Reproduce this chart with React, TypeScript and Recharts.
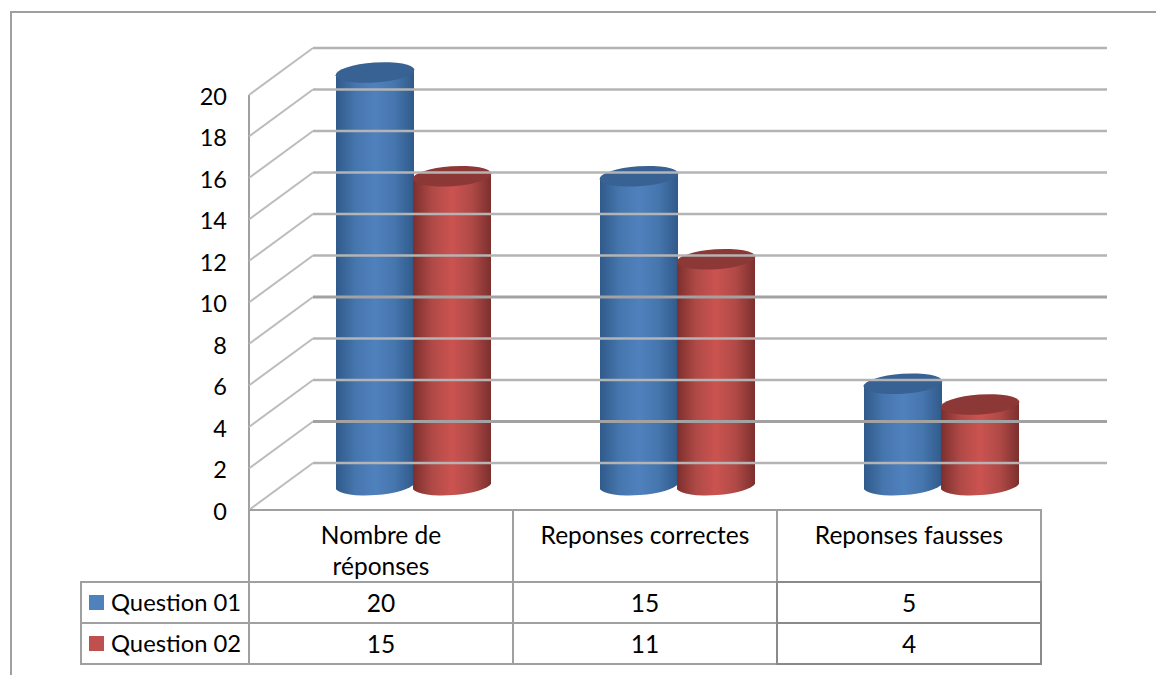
import React from 'react'
import { Bar, BarChart, XAxis, YAxis } from 'recharts'

const categories = ['Nombre de réponses', 'Reponses correctes', 'Reponses fausses']
const categoryLines = [['Nombre de', 'réponses'], ['Reponses correctes'], ['Reponses fausses']]
const question01 = [20, 15, 5]
const question02 = [15, 11, 4]
const yTicks = [0, 2, 4, 6, 8, 10, 12, 14, 16, 18, 20]
const darkerTicks = [2, 8]

const rows = categories.map((name, i) => ({ name, q1: question01[i], q2: question02[i] }))

const WIDTH = 1156
const HEIGHT = 675
const MARGIN = { top: 95, right: 115, bottom: 0, left: 0 }
const AXIS_X = 249
const AXIS_BOTTOM = 165
const BACK_RIGHT = 1107
const DEPTH_X = 64
const DEPTH_Y = 47
const FONT = 'Lato, Carlito, sans-serif'
const TEXT_SIZE = 24.5
const GRID = '#b4b4b4'
const BORDER = '#a0a0a0'
const COL_W = (WIDTH - MARGIN.right - AXIS_X) / categories.length

function YTick(props: any) {
  const { y, payload } = props
  const dark = darkerTicks.includes(payload.value)
  return (
    <g>
      <line x1={AXIS_X} y1={y} x2={AXIS_X + DEPTH_X} y2={y - DEPTH_Y} stroke="#bcbcbc" strokeWidth={2} />
      <line
        x1={AXIS_X + DEPTH_X}
        y1={y - DEPTH_Y}
        x2={BACK_RIGHT}
        y2={y - DEPTH_Y}
        stroke={dark ? '#a2a2a2' : GRID}
        strokeWidth={dark ? 3 : 2.5}
      />
      <text x={227} y={y + 9.5} textAnchor="end" fontFamily={FONT} fontSize={23.5} fill="#000">
        {payload.value}
      </text>
    </g>
  )
}

function LegendCell(props: { top: number; label: string; color: string }) {
  return (
    <g>
      <rect x={81} y={props.top} width={AXIS_X - 81} height={41} fill="#fff" stroke={BORDER} strokeWidth={2} />
      <rect x={89} y={props.top + 13} width={15} height={15} fill={props.color} />
      <text x={111} y={props.top + 29} fontFamily={FONT} fontSize={23.8} fill="#000">
        {props.label}
      </text>
    </g>
  )
}

// table under the plot, one column per category, hung off the x axis ticks
function TableTick(props: any) {
  const { x, index } = props
  const bottom = HEIGHT - AXIS_BOTTOM
  const left = x - COL_W / 2
  const right = x + COL_W / 2
  const lines = categoryLines[index]
  const rowStroke = index === 2 ? '#8a8a8a' : BORDER
  return (
    <g>
      {index === 0 && (
        <g>
          <LegendCell top={582} label="Question 01" color="#4f81bd" />
          <LegendCell top={623} label="Question 02" color="#c0504d" />
        </g>
      )}
      <rect x={left} y={bottom} width={right - left} height={72} fill="none" stroke={BORDER} strokeWidth={2} />
      <rect x={left} y={582} width={right - left} height={41} fill="none" stroke={rowStroke} strokeWidth={2} />
      <rect x={left} y={623} width={right - left} height={41} fill="none" stroke={rowStroke} strokeWidth={2} />
      {lines.map((line: string, i: number) => (
        <text key={line} x={x} y={bottom + 34 + i * 31} textAnchor="middle" fontFamily={FONT} fontSize={TEXT_SIZE} fill="#000">
          {line}
        </text>
      ))}
      <text x={x} y={612} textAnchor="middle" fontFamily={FONT} fontSize={TEXT_SIZE} fill="#000">
        {question01[index]}
      </text>
      <text x={x} y={653} textAnchor="middle" fontFamily={FONT} fontSize={TEXT_SIZE} fill="#000">
        {question02[index]}
      </text>
    </g>
  )
}

function Cylinder(props: any) {
  const { x, y, width, height, gradient, cap } = props
  const left = x + DEPTH_X / 2
  const top = y - DEPTH_Y / 2 + 1
  const rx = width / 2 + 0.5
  const ry = 10
  const tilt = 2.8
  const path = [
    `M${left},${top + tilt}`,
    `L${left},${top + height + tilt - 1}`,
    `A${rx},${ry} -4 0 0 ${left + width},${top + height - tilt - 1}`,
    `L${left + width},${top - tilt}`,
    'Z',
  ].join(' ')
  return (
    <g>
      <path d={path} fill={`url(#${gradient})`} />
      <ellipse cx={left + width / 2} cy={top} rx={rx} ry={ry} fill={cap} transform={`rotate(-4 ${left + width / 2} ${top})`} />
    </g>
  )
}

function BarGradient(props: { id: string; edge: string; mid: string; center: string }) {
  return (
    <linearGradient id={props.id} x1="0" y1="0" x2="1" y2="0">
      <stop offset="0%" stopColor={props.edge} />
      <stop offset="25%" stopColor={props.mid} />
      <stop offset="50%" stopColor={props.center} />
      <stop offset="75%" stopColor={props.mid} />
      <stop offset="100%" stopColor={props.edge} />
    </linearGradient>
  )
}

export default function App() {
  return (
    <div
      style={{
        position: 'absolute',
        left: 0,
        top: 0,
        width: WIDTH,
        height: HEIGHT,
        background: '#fff',
        overflow: 'hidden',
      }}
    >
      <div
        style={{
          position: 'absolute',
          left: 10,
          top: 11,
          width: WIDTH,
          height: HEIGHT,
          borderLeft: `2px solid ${BORDER}`,
          borderTop: `2px solid ${BORDER}`,
        }}
      />
      <div style={{ position: 'absolute', left: 0, top: 0 }}>
        <BarChart width={WIDTH} height={HEIGHT} data={rows} margin={MARGIN} barSize={78} barGap={-1}>
          <defs>
            <BarGradient id="blueBody" edge="#305a8a" mid="#4676ae" center="#4f81bd" />
            <BarGradient id="redBody" edge="#7c2f2d" mid="#b04a47" center="#cb5350" />
          </defs>
          <YAxis
            type="number"
            domain={[0, 20]}
            ticks={yTicks}
            width={AXIS_X}
            interval={0}
            tick={YTick}
            tickLine={false}
            axisLine={{ stroke: BORDER, strokeWidth: 2 }}
          />
          <XAxis
            dataKey="name"
            type="category"
            height={AXIS_BOTTOM}
            interval={0}
            tick={TableTick}
            tickLine={false}
            axisLine={false}
          />
          <Bar
            dataKey="q1"
            isAnimationActive={false}
            shape={(p: any) => <Cylinder {...p} gradient="blueBody" cap="#386194" />}
          />
          <Bar
            dataKey="q2"
            isAnimationActive={false}
            shape={(p: any) => <Cylinder {...p} gradient="redBody" cap="#8c3836" />}
          />
        </BarChart>
      </div>
    </div>
  )
}
